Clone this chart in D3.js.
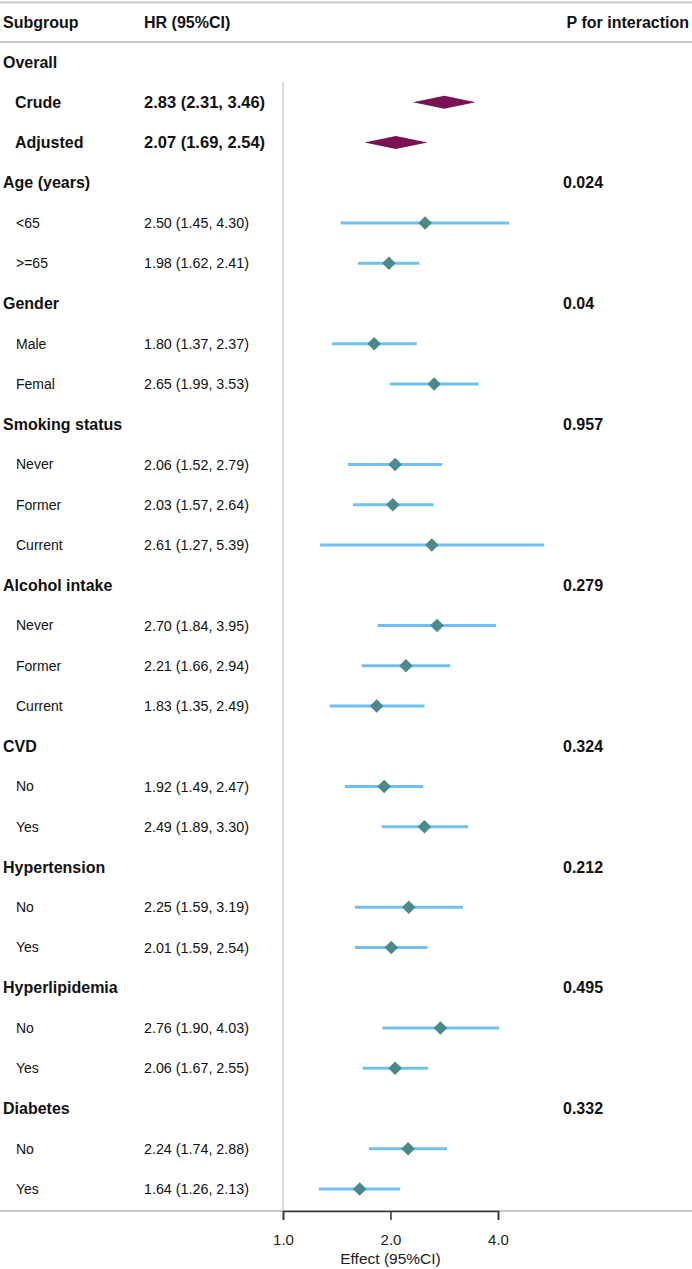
<!DOCTYPE html>
<html>
<head>
<meta charset="utf-8">
<script src="https://cdn.jsdelivr.net/npm/d3@7"></script>
<style>
  body { margin: 0; background: #fff; }
  svg { display: block; font-family: "Liberation Sans", Arial, Helvetica, sans-serif; }
</style>
</head>
<body>
<div id="chart"></div>
<script>
// rows of the forest plot, top to bottom
const rowLabels = [
  "Overall", "Crude", "Adjusted",
  "Age (years)", "<65", ">=65",
  "Gender", "Male", "Femal",
  "Smoking status", "Never", "Former", "Current",
  "Alcohol intake", "Never", "Former", "Current",
  "CVD", "No", "Yes",
  "Hypertension", "No", "Yes",
  "Hyperlipidemia", "No", "Yes",
  "Diabetes", "No", "Yes"
]
// group = bold heading, overall = bold diamond row, sub = normal row
const rowKinds = [
  "group", "overall", "overall",
  "group", "sub", "sub",
  "group", "sub", "sub",
  "group", "sub", "sub", "sub",
  "group", "sub", "sub", "sub",
  "group", "sub", "sub",
  "group", "sub", "sub",
  "group", "sub", "sub",
  "group", "sub", "sub"
]
const hrValues = [
  null, 2.83, 2.07,
  null, 2.50, 1.98,
  null, 1.80, 2.65,
  null, 2.06, 2.03, 2.61,
  null, 2.70, 2.21, 1.83,
  null, 1.92, 2.49,
  null, 2.25, 2.01,
  null, 2.76, 2.06,
  null, 2.24, 1.64
]
const lowerCI = [
  null, 2.31, 1.69,
  null, 1.45, 1.62,
  null, 1.37, 1.99,
  null, 1.52, 1.57, 1.27,
  null, 1.84, 1.66, 1.35,
  null, 1.49, 1.89,
  null, 1.59, 1.59,
  null, 1.90, 1.67,
  null, 1.74, 1.26
]
const upperCI = [
  null, 3.46, 2.54,
  null, 4.30, 2.41,
  null, 2.37, 3.53,
  null, 2.79, 2.64, 5.39,
  null, 3.95, 2.94, 2.49,
  null, 2.47, 3.30,
  null, 3.19, 2.54,
  null, 4.03, 2.55,
  null, 2.88, 2.13
]
const pInteraction = [
  null, null, null,
  "0.024", null, null,
  "0.04", null, null,
  "0.957", null, null, null,
  "0.279", null, null, null,
  "0.324", null, null,
  "0.212", null, null,
  "0.495", null, null,
  "0.332", null, null
]
const xTicks = [1, 2, 4]

const width = 692
const height = 1269

const svg = d3.select("#chart")
  .append("svg")
  .attr("width", width)
  .attr("height", height)

const x = d3.scaleLog().base(2)
  .domain([1, 4])
  .range([283, 498])

const y = d3.scaleLinear()
  .domain([0, rowLabels.length - 1])
  .range([62, 1189])

const bottomY = 1211
const fmt = d3.format(".2f")
const rows = rowLabels.map((label, i) => ({
  label,
  kind: rowKinds[i],
  hr: hrValues[i],
  lo: lowerCI[i],
  hi: upperCI[i],
  p: pInteraction[i],
  i
}))

// horizontal rules
const ruleColor = "#c6c6c6"
svg.append("line").attr("x1", 0).attr("x2", width).attr("y1", 2.5).attr("y2", 2.5)
  .attr("stroke", ruleColor).attr("stroke-width", 2)
svg.append("line").attr("x1", 0).attr("x2", width).attr("y1", 42).attr("y2", 42)
  .attr("stroke", ruleColor).attr("stroke-width", 2)

// reference line at HR = 1
svg.append("line")
  .attr("x1", x(1)).attr("x2", x(1))
  .attr("y1", 82).attr("y2", bottomY)
  .attr("stroke", "#cfcfcf").attr("stroke-width", 1.5)

svg.append("line").attr("x1", 0).attr("x2", width).attr("y1", bottomY).attr("y2", bottomY)
  .attr("stroke", ruleColor).attr("stroke-width", 2)

// header
const header = svg.append("g").attr("class", "header")
  .style("font-weight", "bold").style("font-size", "16px").attr("fill", "#111")
header.append("text").attr("x", 3).attr("y", 22).attr("dy", "0.35em").text("Subgroup")
header.append("text").attr("x", 144).attr("y", 22).attr("dy", "0.35em").text("HR (95%CI)")
header.append("text").attr("x", 689).attr("y", 22).attr("dy", "0.35em")
  .attr("text-anchor", "end").text("P for interaction")

// left text columns
const textG = svg.append("g").attr("class", "labels")
textG.selectAll("text.label")
  .data(rows)
  .enter()
  .append("text")
  .attr("class", "label")
  .attr("x", d => d.kind === "group" ? 3 : (d.kind === "overall" ? 15 : 16))
  .attr("y", d => y(d.i))
  .attr("dy", "0.35em")
  .style("font-size", d => d.kind === "sub" ? "14px" : "16px")
  .style("font-weight", d => d.kind === "sub" ? "normal" : "bold")
  .attr("fill", "#111")
  .text(d => d.label)

textG.selectAll("text.hr")
  .data(rows.filter(d => d.hr !== null))
  .enter()
  .append("text")
  .attr("class", "hr")
  .attr("x", 144)
  .attr("y", d => y(d.i))
  .attr("dy", "0.35em")
  .style("font-size", d => d.kind === "overall" ? "16.5px" : "14.3px")
  .style("font-weight", d => d.kind === "overall" ? "bold" : "normal")
  .attr("fill", "#111")
  .text(d => `${fmt(d.hr)} (${fmt(d.lo)}, ${fmt(d.hi)})`)

textG.selectAll("text.p")
  .data(rows.filter(d => d.p !== null))
  .enter()
  .append("text")
  .attr("class", "p")
  .attr("x", 563)
  .attr("y", d => y(d.i))
  .attr("dy", "0.35em")
  .style("font-size", "16px")
  .style("font-weight", "bold")
  .attr("fill", "#111")
  .text(d => d.p)

// confidence intervals
const plot = svg.append("g").attr("class", "plot")
const subRows = rows.filter(d => d.kind === "sub")

plot.selectAll("line.ci")
  .data(subRows)
  .enter()
  .append("line")
  .attr("class", "ci")
  .attr("x1", d => x(d.lo))
  .attr("x2", d => x(d.hi))
  .attr("y1", d => y(d.i))
  .attr("y2", d => y(d.i))
  .attr("stroke", "#6fc0f3")
  .attr("stroke-width", 2.8)

// point estimates
const s = 6.8
plot.selectAll("path.point")
  .data(subRows)
  .enter()
  .append("path")
  .attr("class", "point")
  .attr("d", d => {
    const cx = x(d.hr), cy = y(d.i)
    return `M${cx - s},${cy}L${cx},${cy - s}L${cx + s},${cy}L${cx},${cy + s}Z`
  })
  .attr("fill", "#4b8a8a")

// overall summary diamonds
const h = 6.5
plot.selectAll("path.summary")
  .data(rows.filter(d => d.kind === "overall"))
  .enter()
  .append("path")
  .attr("class", "summary")
  .attr("d", d => {
    const cy = y(d.i)
    return `M${x(d.lo)},${cy}L${x(d.hr)},${cy - h}L${x(d.hi)},${cy}L${x(d.hr)},${cy + h}Z`
  })
  .attr("fill", "#7a1254")

// x axis
const axis = svg.append("g")
  .attr("transform", `translate(0, ${bottomY})`)
  .call(d3.axisBottom(x).tickValues(xTicks).tickFormat(d3.format(".1f")).tickSize(9).tickPadding(14))

axis.select(".domain").attr("stroke", "#333").attr("stroke-width", 1.5)
axis.selectAll(".tick line").attr("stroke", "#333").attr("stroke-width", 1.5)
axis.selectAll(".tick text")
  .style("font-size", "15px")
  .style("font-family", "\"Liberation Sans\", Arial, sans-serif")
  .attr("fill", "#222")

svg.append("text")
  .attr("x", x(2))
  .attr("y", 1259)
  .attr("dy", "0.35em")
  .attr("text-anchor", "middle")
  .style("font-size", "15.5px")
  .attr("fill", "#222")
  .text("Effect (95%CI)")
</script>
</body>
</html>
